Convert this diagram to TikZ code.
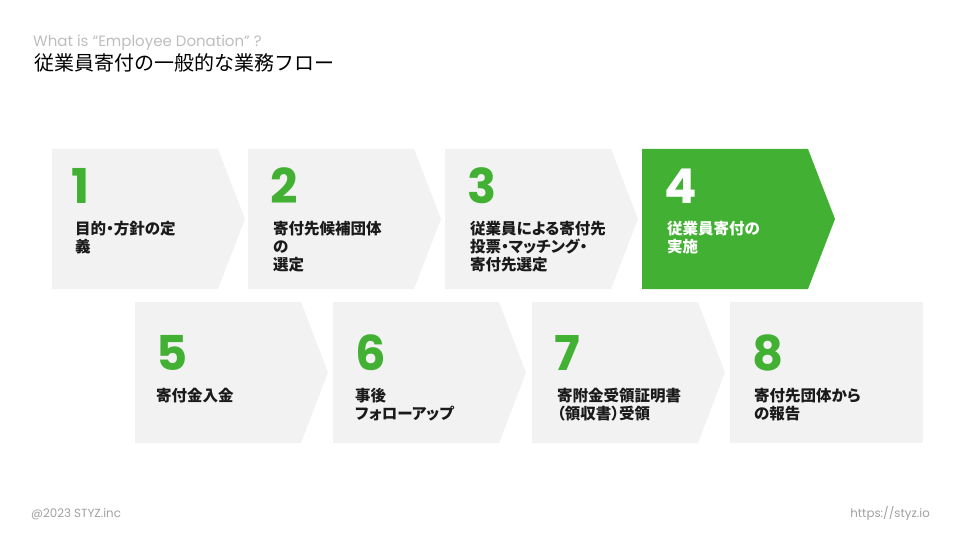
\documentclass[tikz,border=0pt]{standalone}
\usepackage{fontspec}
\newfontfamily\jpfont{Noto Sans CJK JP}
\newfontfamily\jppfont[RawFeature=+palt]{Noto Sans CJK JP}
\newfontfamily\numfont{Poppins}
\definecolor{brandgreen}{HTML}{42B133}
\definecolor{boxgray}{HTML}{F2F2F2}
\definecolor{inkdark}{HTML}{1A1A1A}
\definecolor{subgray}{HTML}{BDBDBD}
\definecolor{footgray}{HTML}{A0A0A0}
\tikzset{
  graybox/.style={fill=boxgray},
  greenbox/.style={fill=brandgreen},
  stepnum/.style={anchor=base west, inner sep=0pt, font=\numfont\bfseries\fontsize{48}{48}\selectfont, text=brandgreen},
  steplabel/.style={anchor=north west, inner sep=0pt, align=left, font=\jppfont\bfseries\fontsize{15.5}{18}\selectfont, text=inkdark},
}
\begin{document}
\begin{tikzpicture}[x=1pt,y=-1pt]
\useasboundingbox (0,0) rectangle (960,540);
% headings
\node[anchor=base west, inner sep=0pt, font=\numfont\fontsize{15}{15}\selectfont, text=subgray] (subtitle) at (33,47) {What is “Employee Donation” ?};
\node[anchor=base west, inner sep=0pt, font=\jpfont\fontsize{20}{20}\selectfont, text=black] (title) at (34,70.5) {従業員寄付の一般的な業務フロー};
% row 1 boxes
\fill[graybox]  (52,149) -- (218,149) -- (245,219) -- (218,289) -- (52,289) -- cycle;
\fill[graybox]  (248,149) -- (414,149) -- (441,219) -- (414,289) -- (248,289) -- cycle;
\fill[graybox]  (445,149) -- (611,149) -- (638,219) -- (611,289) -- (445,289) -- cycle;
\fill[greenbox] (642,149) -- (808,149) -- (835,219) -- (808,289) -- (642,289) -- cycle;
% row 2 boxes
\fill[graybox]  (135,302) -- (301,302) -- (328,372.5) -- (301,443) -- (135,443) -- cycle;
\fill[graybox]  (333,302) -- (499,302) -- (526,372.5) -- (499,443) -- (333,443) -- cycle;
\fill[graybox]  (532,302) -- (698,302) -- (725,372.5) -- (698,443) -- (532,443) -- cycle;
\fill[graybox]  (730,302) rectangle (923,443);
% numbers row 1
\node[stepnum] (n1) at (71,203) {1};
\node[stepnum] (n2) at (270,203) {2};
\node[stepnum] (n3) at (467,203) {3};
\node[stepnum, text=white] (n4) at (664,203) {4};
% numbers row 2
\node[stepnum] (n5) at (156,370) {5};
\node[stepnum] (n6) at (355,370) {6};
\node[stepnum] (n7) at (554,370) {7};
\node[stepnum] (n8) at (752,370) {8};
% labels row 1
\node[steplabel] (t1) at (75,221) {目的・方針の定\\義};
\node[steplabel] (t2) at (273,221) {寄付先候補団体\\の\\選定};
\node[steplabel] (t3) at (470,221) {従業員による寄付先\\投票・マッチング・\\寄付先選定};
\node[steplabel, text=white] (t4) at (667,221) {従業員寄付の\\実施};
% labels row 2
\node[steplabel] (t5) at (156,388) {寄付金入金};
\node[steplabel] (t6) at (355,388) {事後\\フォローアップ};
\node[steplabel] (t7) at (557,388) {寄附金受領証明書\\（領収書）受領};
\node[steplabel] (t8) at (754,388) {寄付先団体から\\の報告};
% footer
\node[anchor=base west, inner sep=0pt, font=\numfont\fontsize{11.8}{11.8}\selectfont, text=footgray] (copy) at (31,517) {@2023 STYZ.inc};
\node[anchor=base east, inner sep=0pt, font=\numfont\fontsize{11.8}{11.8}\selectfont, text=footgray] (url) at (930,517) {https://styz.io};
\end{tikzpicture}
\end{document}
